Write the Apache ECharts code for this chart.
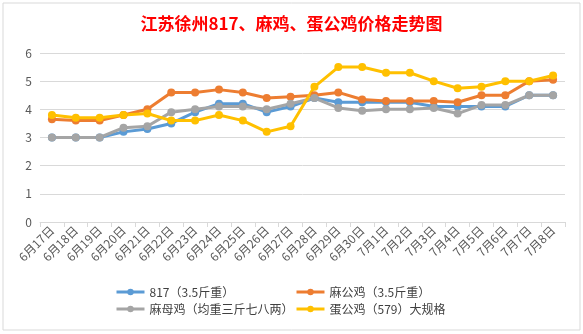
<!DOCTYPE html>
<html>
<head>
<meta charset="utf-8">
<script src="https://cdn.jsdelivr.net/npm/echarts@6/dist/echarts.min.js"></script>
<style>
html,body{margin:0;padding:0;background:#fff;}
#c{width:583px;height:334px;}
</style>
</head>
<body>
<div id="c"></div>
<script>
const categories = ['6月17日','6月18日','6月19日','6月20日','6月21日','6月22日','6月23日','6月24日','6月25日','6月26日','6月27日','6月28日','6月29日','6月30日','7月1日','7月2日','7月3日','7月4日','7月5日','7月6日','7月7日','7月8日'];
const s817 = [3.0,3.0,3.0,3.2,3.3,3.5,3.9,4.2,4.2,3.9,4.1,4.4,4.25,4.25,4.25,4.25,4.1,4.1,4.1,4.1,4.5,4.5];
const sMaGong = [3.65,3.6,3.6,3.8,4.0,4.6,4.6,4.7,4.6,4.4,4.45,4.5,4.6,4.35,4.3,4.3,4.3,4.25,4.5,4.5,5.0,5.05];
const sMaMu = [3.0,3.0,3.0,3.35,3.4,3.9,4.0,4.1,4.1,4.0,4.2,4.4,4.05,3.95,4.0,4.0,4.05,3.85,4.15,4.15,4.5,4.5];
const sDanGong = [3.8,3.7,3.7,3.8,3.85,3.6,3.6,3.8,3.6,3.2,3.4,4.8,5.5,5.5,5.3,5.3,5.0,4.75,4.8,5.0,5.0,5.2];
const names = ['817（3.5斤重）','麻公鸡（3.5斤重）','麻母鸡（均重三斤七八两）','蛋公鸡（579）大规格'];
const yTicks = [0,1,2,3,4,5,6];
const colors = ['#5B9BD5','#ED7D31','#A5A5A5','#FFC000'];

const chart = echarts.init(document.getElementById('c'), null, {renderer:'canvas'});
function mk(name, data, color){
  return {name, type:'line', data, symbol:'circle', symbolSize:8,
    lineStyle:{width:3, color}, itemStyle:{color}, emphasis:{disabled:true}};
}
const font = '"Microsoft YaHei","Noto Sans CJK SC",sans-serif';
const legendText = {color:'#404040', fontSize:12, fontFamily:font};
chart.setOption({
  animation:false,
  color: colors,
  textStyle:{fontFamily:font},
  title:{text:'江苏徐州817、麻鸡、蛋公鸡价格走势图', left:'center', top:10,
    textStyle:{color:'#FF0000', fontSize:17, fontWeight:'bold', fontFamily:font}},
  graphic:[{type:'rect', shape:{x:3,y:3,width:577,height:327}, style:{fill:'none', stroke:'#d9d9d9', lineWidth:1}, silent:true}],
  grid:{left:40, right:18, top:53, bottom:112, containLabel:false},
  legend:[
    {data:[names[0], names[2]], orient:'vertical', left:110, top:281, itemWidth:28, itemHeight:8, itemGap:5,
     lineStyle:{width:3}, textStyle:legendText},
    {data:[names[1], names[3]], orient:'vertical', left:290, top:281, itemWidth:28, itemHeight:8, itemGap:5,
     lineStyle:{width:3}, textStyle:legendText}
  ],
  xAxis:{type:'category', data:categories, boundaryGap:true,
    axisLine:{lineStyle:{color:'#d9d9d9'}},
    axisTick:{show:true, alignWithLabel:false, lineStyle:{color:'#d9d9d9'}},
    axisLabel:{rotate:45, color:'#595959', fontSize:12, interval:0, margin:6}},
  yAxis:{type:'value', min:yTicks[0], max:yTicks[yTicks.length-1], interval:1,
    axisLine:{show:false}, axisTick:{show:false},
    splitLine:{lineStyle:{color:'#d9d9d9'}},
    axisLabel:{color:'#595959', fontSize:12, margin:8}},
  series:[
    mk(names[0], s817, colors[0]),
    mk(names[1], sMaGong, colors[1]),
    mk(names[2], sMaMu, colors[2]),
    mk(names[3], sDanGong, colors[3])
  ]
});
</script>
</body>
</html>
